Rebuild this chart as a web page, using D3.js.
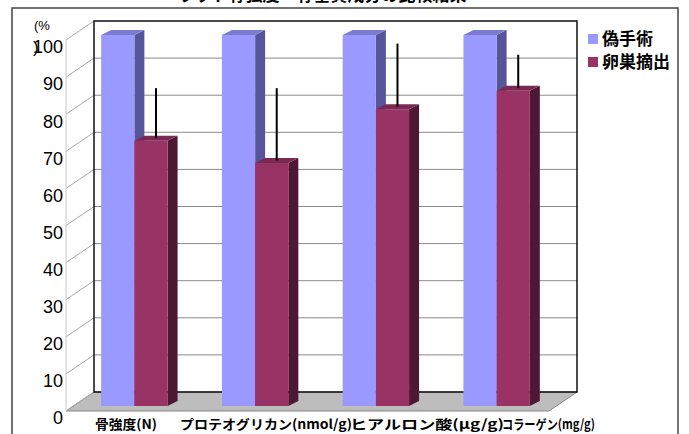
<!DOCTYPE html>
<html>
<head>
<meta charset="utf-8">
<script src="https://cdn.jsdelivr.net/npm/d3@7"></script>
<style>
  html, body { margin: 0; padding: 0; background: #fff; }
  svg { display: block; }
  text { font-family: "Liberation Sans", Arial, sans-serif; fill: #000; }
  .jp { font-family: "Noto Sans CJK JP", sans-serif; }
  .tick { font-family: "Liberation Sans Narrow", "Liberation Sans", Arial, sans-serif; }
</style>
</head>
<body>
<div id="chart"></div>
<script>
// データ
const categories = ['骨強度(N)', 'プロテオグリカン(nmol/g)', 'ヒアルロン酸(μg/g)', 'コラーゲン(mg/g)'];
const series = ['偽手術', '卵巣摘出'];
const shamValues = [100, 100, 100, 100];
const ovxValues = [71.5, 65.5, 80, 85];
const ovxErrors = [13.5, 19.5, 17, 9];
const yTicks = [0, 10, 20, 30, 40, 50, 60, 70, 80, 90, 100];
const titleText = 'ラット骨強度・骨基質成分の比較結果';

{
    let width = 689,
        height = 434,
        depth = { x: 28, y: -19 },     // 奥行き（床の奥へのずれ）
        barOff = { x: 8, y: -5 },      // 棒の前面の位置
        barDepth = { x: 10, y: -5 };   // 棒の奥行き

    const colors = {
        front: ['#9999ff', '#993366'],
        side: ['#55559a', '#4e1733'],
        top: ['#7b7bd0', '#7a2a52']
    };

    let svg = d3.select('#chart').append('svg')
        .attr('width', width)
        .attr('height', height);

    // 外枠
    svg.append('rect')
        .attr('x', 12).attr('y', 8)
        .attr('width', 666).attr('height', 440)
        .attr('fill', '#fff')
        .attr('stroke', '#444')
        .attr('stroke-width', 1.5);

    // タイトル（上が切れている）
    svg.append('text')
        .attr('class', 'jp')
        .attr('x', 322).attr('y', 1)
        .attr('text-anchor', 'middle')
        .attr('font-size', 17)
        .attr('font-weight', 'bold')
        .text(titleText);

    let y = d3.scaleLinear().domain([0, 100]).range([411, 40]);
    let x0 = d3.scaleBand().domain(categories).range([66, 549]).padding(0);
    let x1 = d3.scaleBand().domain(series)
        .range([x0.bandwidth() * 0.225, x0.bandwidth() * 0.775]);

    const fx = x0.range()[0], bx = fx + depth.x;
    const rx = x0.range()[1];

    // 左の壁
    svg.append('polygon')
        .attr('points', [[fx, y(100)], [bx, y(100) + depth.y], [bx, y(0) + depth.y], [fx, y(0)]].join(' '))
        .attr('fill', '#fff');

    // 床
    svg.append('polygon')
        .attr('points', [[fx, y(0)], [rx, y(0)], [rx + depth.x, y(0) + depth.y], [bx, y(0) + depth.y]].join(' '))
        .attr('fill', '#bdbdbd')
        .attr('stroke', '#888')
        .attr('stroke-width', 1);

    // グリッド線（奥の壁と左の壁）
    let grid = svg.append('g');
    grid.selectAll('line.back')
        .data(yTicks.filter(d => d > 0 && d < 100))
        .join('line')
        .attr('class', 'back')
        .attr('x1', bx).attr('x2', rx + depth.x)
        .attr('y1', d => y(d) + depth.y).attr('y2', d => y(d) + depth.y)
        .attr('stroke', '#8a8a8a').attr('stroke-width', 1);
    grid.selectAll('line.side')
        .data(yTicks)
        .join('line')
        .attr('class', 'side')
        .attr('x1', fx).attr('x2', bx)
        .attr('y1', d => y(d)).attr('y2', d => y(d) + depth.y)
        .attr('stroke', '#a8a8a8').attr('stroke-width', 1);
    grid.append('line')
        .attr('x1', fx).attr('x2', fx)
        .attr('y1', y(100)).attr('y2', y(0))
        .attr('stroke', '#c8c8c8');

    // 奥の壁の枠
    svg.append('rect')
        .attr('x', bx).attr('y', y(100) + depth.y)
        .attr('width', rx - fx).attr('height', y(0) - y(100))
        .attr('fill', 'none')
        .attr('stroke', '#111')
        .attr('stroke-width', 1.5);

    // 3D の棒
    const valuesBySeries = [shamValues, ovxValues];
    let bars = [];
    categories.forEach((c, i) => {
        series.forEach((s, j) => {
            bars.push({ cat: c, s: j, v: valuesBySeries[j][i], err: j === 1 ? ovxErrors[i] : null });
        });
    });

    let barG = svg.append('g');
    let bw = x1.bandwidth();
    bars.forEach(d => {
        let x = x0(d.cat) + x1(series[d.s]) + barOff.x;
        let yt = y(d.v) + barOff.y, yb = y(0) + barOff.y;
        let g = barG.append('g');
        // 側面
        g.append('polygon')
            .attr('points', [[x + bw, yt], [x + bw + barDepth.x, yt + barDepth.y], [x + bw + barDepth.x, yb + barDepth.y], [x + bw, yb]].join(' '))
            .attr('fill', colors.side[d.s]);
        // 上面
        g.append('polygon')
            .attr('points', [[x, yt], [x + barDepth.x, yt + barDepth.y], [x + bw + barDepth.x, yt + barDepth.y], [x + bw, yt]].join(' '))
            .attr('fill', colors.top[d.s]);
        // 前面
        g.append('rect')
            .attr('x', x).attr('y', yt)
            .attr('width', bw).attr('height', yb - yt)
            .attr('fill', colors.front[d.s]);
        // 誤差線
        if (d.err != null) {
            let cx = x + bw / 2 + barDepth.x / 2;
            g.append('line')
                .attr('x1', cx).attr('x2', cx)
                .attr('y1', yt + barDepth.y / 2)
                .attr('y2', y(d.v + d.err) + barOff.y + barDepth.y / 2)
                .attr('stroke', '#000')
                .attr('stroke-width', 2);
        }
    });

    // Y 軸の目盛りラベル
    svg.append('g').selectAll('text')
        .data(yTicks)
        .join('text')
        .attr('class', 'tick')
        .attr('x', 63)
        .attr('y', d => y(d) + 7)
        .attr('dy', '0.35em')
        .attr('text-anchor', 'end')
        .attr('font-size', 18)
        .text(d => d);

    svg.append('text')
        .attr('x', 34).attr('y', 30)
        .attr('font-size', 13)
        .text('(%');
    svg.append('text')
        .attr('x', 33).attr('y', y(100) + 7)
        .attr('dy', '0.35em')
        .attr('font-size', 17)
        .text(')');

    // カテゴリラベル（元図のとおり重なり気味に並ぶ）
    const labelBoxes = [[95, 62], [180, 172], [350, 154], [502, 93]];
    svg.append('g').selectAll('text')
        .data(categories)
        .join('text')
        .attr('class', 'jp')
        .attr('x', (d, i) => labelBoxes[i][0])
        .attr('y', 429)
        .attr('font-size', 13)
        .attr('font-weight', 'bold')
        .attr('textLength', (d, i) => labelBoxes[i][1])
        .attr('lengthAdjust', 'spacingAndGlyphs')
        .text(d => d);

    // 凡例
    let legend = svg.append('g').selectAll('g')
        .data(series)
        .join('g')
        .attr('transform', (d, i) => `translate(588, ${39 + i * 23})`);
    legend.append('rect')
        .attr('x', 0).attr('y', -5)
        .attr('width', 10).attr('height', 10)
        .attr('fill', (d, i) => colors.front[i]);
    legend.append('text')
        .attr('class', 'jp')
        .attr('x', 14)
        .attr('dy', '0.35em')
        .attr('font-size', 17)
        .attr('font-weight', 'bold')
        .text(d => d);
}
</script>
</body>
</html>
